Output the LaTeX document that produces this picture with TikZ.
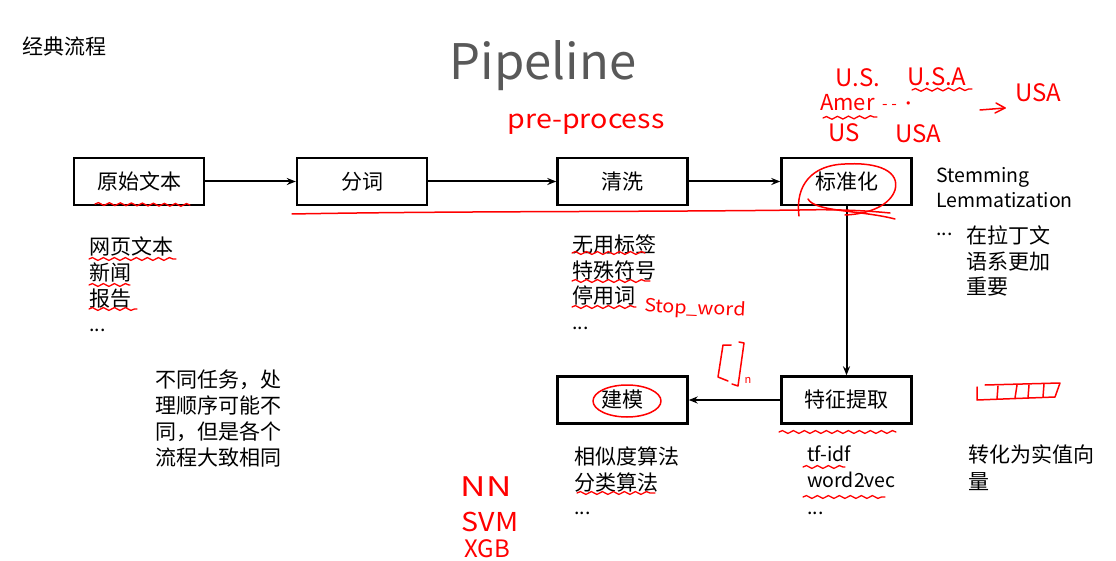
\documentclass[tikz,border=0pt]{standalone}
\usepackage{fontspec}
\setmainfont{Noto Sans CJK SC}
\usetikzlibrary{arrows.meta,decorations.pathmorphing}
\definecolor{titlegray}{HTML}{595959}
\definecolor{hand}{HTML}{FF0000}
\begin{document}
\begin{tikzpicture}[x=1pt,y=-1pt,
  box/.style={draw, line width=2.4pt, minimum width=130pt, minimum height=47pt, inner sep=0pt, font=\fontsize{21}{26}\selectfont},
  flow/.style={-{Stealth[length=9pt,width=7pt]}, line width=2pt},
  txt/.style={anchor=west, inner sep=0pt, font=\fontsize{21}{26}\selectfont, text height=18pt, text depth=2.5pt},
  lat/.style={anchor=west, inner sep=0pt, font=\fontsize{19.5}{26}\selectfont, text height=18pt, text depth=2.5pt},
  wave/.style={draw=hand, line width=1.3pt, line cap=round, decorate, decoration={snake, segment length=11pt, amplitude=1.4pt}},
  pen/.style={draw=hand, line width=1.5pt, line cap=round, line join=round},
  hw/.style={text=hand, inner sep=0pt, font=\fontsize{24}{26}\selectfont}]
\useasboundingbox (0,0) rectangle (1116,561);

% headings
\node[txt] (head) at (22,47) {经典流程};
\node[anchor=base, inner sep=0pt, font=\fontsize{49}{56}\selectfont, text=titlegray] (title) at (543,80) {Pipeline};

% boxes
\node[box] (raw) at (139,181.5) {原始文本};
\node[box] (seg) at (362,181.5) {分词};
\node[box] (clean) at (622.5,181.5) {清洗};
\node[box] (norm) at (846.5,181.5) {标准化};
\node[box] (feat) at (846.5,400) {特征提取};
\node[box] (model) at (622.5,400) {建模};

\draw[flow] (raw) -- (seg);
\draw[flow] (seg) -- (clean);
\draw[flow] (clean) -- (norm);
\draw[flow] (norm) -- (feat);
\draw[flow] (feat) -- (model);

% text under raw
\node[txt] (r1) at (89,247) {网页文本};
\node[txt] (r2) at (89,273) {新闻};
\node[txt] (r3) at (89,299) {报告};
\node[lat] (r4) at (89,324) {...};

\node[txt] (n1) at (155,380) {不同任务，处};
\node[txt] (n2) at (155,406) {理顺序可能不};
\node[txt] (n3) at (155,432) {同，但是各个};
\node[txt] (n4) at (155,458) {流程大致相同};

% text under clean
\node[txt] (c1) at (572,245) {无用标签};
\node[txt] (c2) at (572,270.5) {特殊符号};
\node[txt] (c3) at (572,296) {停用词};
\node[lat] (c4) at (572,322) {...};

% right of norm
\node[lat] (s1) at (936,175) {Stemming};
\node[lat] (s2) at (936,200) {Lemmatization};
\node[lat] (s3) at (936,228) {...};
\node[txt] (s4) at (966,236) {在拉丁文};
\node[txt] (s5) at (966,262) {语系更加};
\node[txt] (s6) at (966,287) {重要};

% under model
\node[txt] (m1) at (574,457) {相似度算法};
\node[txt] (m2) at (574,483) {分类算法};
\node[lat] (m3) at (574,507) {...};

% under feat
\node[lat] (f1) at (807,454) {tf-idf};
\node[lat] (f2) at (807,480) {word2vec};
\node[lat] (f3) at (807,507) {...};

\node[txt] (v1) at (968,455) {转化为实值向};
\node[txt] (v2) at (968,482) {量};

% ---------- handwritten annotations ----------
\node[hw, font=\fontsize{26}{28}\selectfont, xscale=1.1] (pre) at (586,124) {pre-process};
\node[hw] (us1) at (858,78) {U.S.};
\node[hw] (us2) at (937,77) {U.S.A};
\node[hw, font=\fontsize{22}{24}\selectfont, anchor=west] (amer) at (820,103) {Amer};
\node[hw, font=\fontsize{16}{18}\selectfont, anchor=west] (dots) at (882,106) {- - ·};
\node[hw] (us3) at (844,133) {US};
\node[hw] (us4) at (918,134) {USA};
\node[hw] (usa) at (1038,93) {USA};
\coordinate (ar1) at (980,110);
\coordinate (ar2) at (1005,108);
\draw[pen] (ar1) -- (ar2);
\draw[pen] (996,103) -- (1005,108) -- (995,113);
\draw[wave] (912,90) -- (972,89);
\draw[wave] (823,118) -- (877,117);

\draw[wave] (95,204) -- (190,205);
\draw[pen] (292,214) .. controls (450,211) and (650,212) .. (800,210) .. controls (840,209) and (870,211) .. (890,213);
\draw[pen] (808,199) .. controls (815,212) and (860,210) .. (895,219);
\draw[pen] (799,216) .. controls (795,185) and (812,165) .. (845,164)
  .. controls (880,162) and (900,172) .. (895,190)
  .. controls (890,205) and (870,214) .. (845,215);

\draw[wave] (89,259) -- (176,259);
\draw[wave] (89,285) -- (130,285);
\draw[wave] (89,309) -- (137,309);

\draw[wave] (572,253) -- (645,253);
\draw[wave] (572,281) -- (650,281);
\draw[wave] (572,307) -- (636,307);
\node[hw, font=\fontsize{18}{20}\selectfont, xscale=1.1, rotate=-3] (stop) at (695,309) {Stop\_word};

\draw[pen] (731,345) -- (723,345) -- (718,377) -- (728,381);
\draw[pen] (739,342) -- (744,343) -- (738,386) -- (732,384);
\node[hw, font=\fontsize{11}{12}\selectfont] (nn) at (748,380) {n};

\draw[pen] (627,401) ellipse [x radius=34, y radius=16];

\draw[wave] (779,432) -- (896,432);
\draw[wave] (803,467) -- (845,467);
\draw[wave] (803,497) -- (885,497);
\draw[wave] (577,493) -- (655,493);

\node[hw, font=\fontsize{27}{28}\selectfont, xscale=1.3] (hnn) at (486,487) {NN};
\node[hw, font=\fontsize{26}{28}\selectfont, xscale=1.1] (hsvm) at (490,522) {SVM};
\node[hw, font=\fontsize{24}{26}\selectfont] (hxgb) at (487,549) {XGB};

\draw[pen] (977,387) -- (977,400) -- (1055,397) -- (1060,383) -- (985,385);
\draw[pen] (998,386) -- (997,399);
\draw[pen] (1017,385) -- (1015,398);
\draw[pen] (1029,385) -- (1028,398);
\draw[pen] (1044,384) -- (1043,397);
\end{tikzpicture}
\end{document}
